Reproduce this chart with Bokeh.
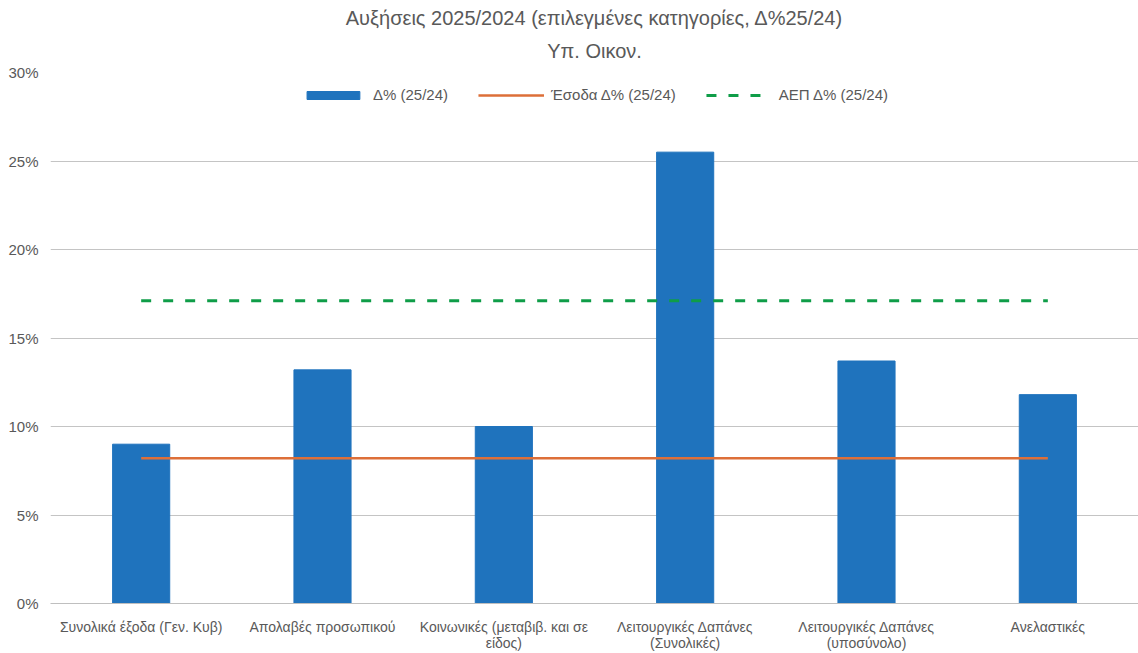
from bokeh.plotting import figure
from bokeh.models import ColumnDataSource, FixedTicker, NumeralTickFormatter, Legend, LegendItem, Title
from bokeh.embed import file_html
from bokeh.resources import INLINE

categories = [
    "Συνολικά έξοδα (Γεν. Κυβ)",
    "Απολαβές προσωπικού",
    "Κοινωνικές (μεταβιβ. και σε\nείδος)",
    "Λειτουργικές Δαπάνες\n(Συνολικές)",
    "Λειτουργικές Δαπάνες\n(υποσύνολο)",
    "Ανελαστικές",
]
delta_pct = [9.0, 13.2, 10.0, 25.5, 13.7, 11.8]
income_pct = [8.2, 8.2, 8.2, 8.2, 8.2, 8.2]
gdp_pct = [17.1, 17.1, 17.1, 17.1, 17.1, 17.1]
y_ticks = [0, 5, 10, 15, 20, 25, 30]

FONT = "Liberation Sans"
GREY = "#595959"

idx = list(range(len(categories)))
src = ColumnDataSource(dict(
    x=idx,
    d=[v / 100 for v in delta_pct],
    inc=[v / 100 for v in income_pct],
    gdp=[v / 100 for v in gdp_pct],
))

p = figure(width=1138, height=653, output_backend="svg", toolbar_location=None,
           x_range=(-0.5, len(categories) - 0.5),
           y_range=(0, y_ticks[-1] / 100),
           min_border_left=50, min_border_right=0, min_border_top=72, min_border_bottom=10)

p.title.text = "Αυξήσεις 2025/2024 (επιλεγμένες κατηγορίες, Δ%25/24)"
p.title.align = "center"
p.title.text_font = FONT
p.title.text_font_size = "20px"
p.title.text_font_style = "normal"
p.title.text_color = GREY
p.title.standoff = -4
p.add_layout(Title(text="Υπ. Οικον.",
                   align="center", text_font=FONT, text_font_size="20px",
                   text_font_style="normal", text_color=GREY, standoff=22), "above")

bars = p.vbar(x="x", top="d", width=0.315, source=src, color="#1f73bd")
l1 = p.line(x="x", y="inc", source=src, line_color="#dd6f38", line_width=2.5)
l2 = p.line(x="x", y="gdp", source=src, line_color="#0f9d48", line_width=3, line_dash="10 12")

p.outline_line_color = None
p.xgrid.grid_line_color = None
p.ygrid.grid_line_color = "#c4c4c4"
p.ygrid.grid_line_width = 1

p.yaxis.ticker = FixedTicker(ticks=[t / 100 for t in y_ticks])
p.yaxis.formatter = NumeralTickFormatter(format="0%")
p.yaxis.axis_line_color = None
p.yaxis.major_tick_line_color = None
p.yaxis.minor_tick_line_color = None
p.yaxis.major_tick_out = 0
p.yaxis.minor_tick_out = 0
p.yaxis.major_label_text_font = FONT
p.yaxis.major_label_text_font_size = "15px"
p.yaxis.major_label_text_color = GREY
p.yaxis.major_label_standoff = 12

p.xaxis.ticker = FixedTicker(ticks=idx)
p.xaxis.major_label_overrides = {i: c for i, c in enumerate(categories)}
p.xaxis.axis_line_color = "#bfbfbf"
p.xaxis.major_tick_line_color = None
p.xaxis.minor_tick_line_color = None
p.xaxis.major_tick_out = 0
p.xaxis.minor_tick_out = 0
p.xaxis.major_tick_in = 0
p.xaxis.major_label_text_font = FONT
p.xaxis.major_label_text_font_size = "14px"
p.xaxis.major_label_text_line_height = 1.0
p.xaxis.major_label_text_color = GREY
p.xaxis.major_label_standoff = 15

legend = Legend(items=[
    LegendItem(label="Δ% (25/24)", renderers=[bars]),
    LegendItem(label="Έσοδα Δ% (25/24)", renderers=[l1]),
    LegendItem(label="ΑΕΠ Δ% (25/24)", renderers=[l2]),
], orientation="horizontal", location="top_center")
legend.glyph_width = 66
legend.glyph_height = 10
legend.spacing = 30
legend.label_standoff = 7
legend.label_text_font = FONT
legend.label_text_font_size = "15px"
legend.label_text_color = GREY
legend.border_line_color = None
legend.background_fill_alpha = 0
legend.margin = 14
p.add_layout(legend)

open("out.html", "w").write(file_html(p, INLINE))
